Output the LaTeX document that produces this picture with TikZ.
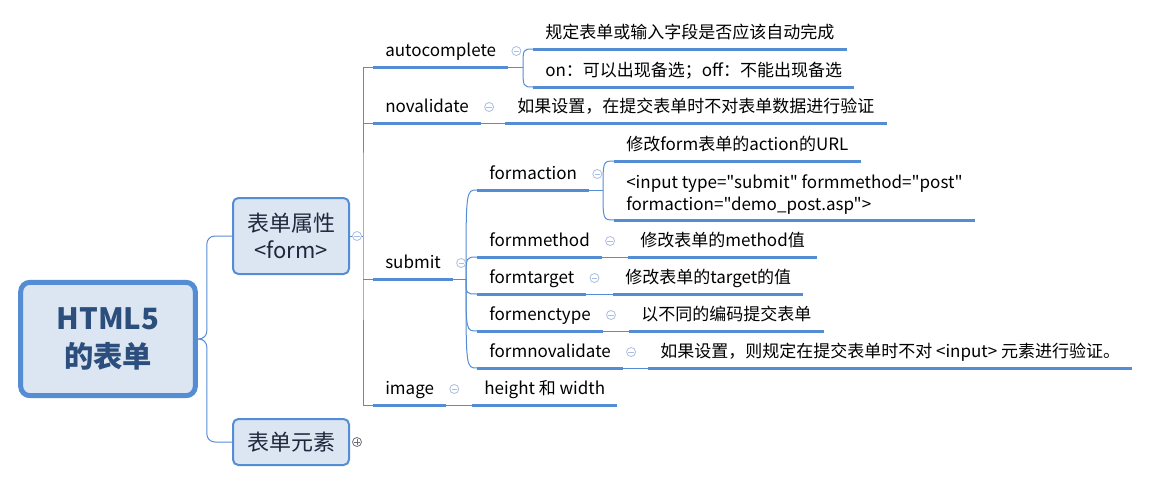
\documentclass[tikz,border=0pt]{standalone}
\usepackage{fontspec}
\setmainfont{Noto Sans CJK SC}[Ligatures=TeXOff]
\usetikzlibrary{positioning,calc}

\definecolor{mmline}{RGB}{84,141,212}
\definecolor{mmfill}{RGB}{220,230,242}
\definecolor{mmroot}{RGB}{44,78,124}
\definecolor{mmmain}{RGB}{30,40,60}
\definecolor{mmfoldl}{RGB}{170,190,225}
\definecolor{mmfoldd}{RGB}{110,110,120}

\tikzset{
  root/.style={draw=mmline, line width=3.75pt, rounded corners=7pt, fill=mmfill,
    minimum width=131pt, minimum height=85pt, align=center, text=mmroot,
    font=\fontsize{22}{29}\selectfont\bfseries},
  mainbox/.style={draw=mmline, line width=1.5pt, rounded corners=4pt, fill=mmfill,
    minimum width=87pt, align=center, text=mmmain,
    font=\fontsize{16.5}{20}\selectfont},
  topicbase/.style={anchor=south west, inner xsep=9pt, inner ysep=4pt,
    font=\fontsize{12.75}{16.5}\selectfont},
  topic/.style={topicbase, text height=9.5pt, text depth=3.5pt},
  conn/.style={draw=mmline, line width=0.75pt},
  uline/.style={draw=mmline, line width=2.25pt},
  fold/.style={circle, draw=mmfoldl, fill=white, line width=0.6pt,
    minimum size=6.75pt, inner sep=0pt,
    path picture={\draw[mmfoldl, line width=0.6pt]
      ([xshift=1.4pt]path picture bounding box.west) -- ([xshift=-1.4pt]path picture bounding box.east);}},
  foldplus/.style={circle, draw=mmfoldd, fill=white, line width=0.6pt,
    minimum size=6.75pt, inner sep=0pt,
    path picture={\draw[mmfoldd, line width=0.6pt]
      ([xshift=1.4pt]path picture bounding box.west) -- ([xshift=-1.4pt]path picture bounding box.east)
      ([yshift=1.4pt]path picture bounding box.south) -- ([yshift=-1.4pt]path picture bounding box.north);}},
}

\begin{document}
\begin{tikzpicture}[x=0.75pt, y=-0.75pt]
\useasboundingbox (0,0) rectangle (1158,483);

% main topics
\node[root] (root) at (108,339) {HTML5\\的表单};
\node[mainbox, minimum height=57pt] (attr) at (291,236) {表单属性\\<form>};
\node[mainbox, minimum height=34.5pt] (elem) at (291,442) {表单元素};

% form attributes
\node[topic] (ac) at (373,67) {autocomplete};
\node[topic] (ac1) at (533,49) {规定表单或输入字段是否应该自动完成};
\node[topic] (ac2) at (533,87) {on：可以出现备选；off：不能出现备选};
\node[topic] (nv) at (373,123) {novalidate};
\node[topic] (nv1) at (505,123) {如果设置，在提交表单时不对表单数据进行验证};
\node[topic] (sub) at (373,279) {submit};
\node[topic] (img) at (373,405) {image};
\node[topic] (img1) at (472,405) {height 和 width};

% submit attributes
\node[topic] (fa) at (477,190) {formaction};
\node[topic] (fa1) at (614,161) {修改form表单的action的URL};
\node[topicbase, align=left] (fa2) at (614,220) {<input type="submit" formmethod="post"\\formaction="demo\_post.asp">};
\node[topic] (fm) at (477,257) {formmethod};
\node[topic] (fm1) at (628,257) {修改表单的method值};
\node[topic] (ft) at (477,294) {formtarget};
\node[topic] (ft1) at (613,294) {修改表单的target的值};
\node[topic] (fe) at (477,331) {formenctype};
\node[topic] (fe1) at (629,331) {以不同的编码提交表单};
\node[topic] (fn) at (477,368) {formnovalidate};
\node[topic] (fn1) at (648,368) {如果设置，则规定在提交表单时不对 <input> 元素进行验证。};

% underlines
\foreach \n in {ac,ac1,ac2,nv,nv1,sub,img,img1,fa,fa1,fa2,fm,fm1,ft,ft1,fe,fe1,fn,fn1}
  \draw[uline] (\n.south west) -- (\n.south east);

% connectors
\draw[conn, rounded corners=6pt] (root.east) -- ++(9,0) |- (attr.west);
\draw[conn, rounded corners=6pt] (root.east) -- ++(9,0) |- (elem.west);
\draw[conn] (attr.east) -- ++(13,0) coordinate (sp);
\draw[conn] (ac.south west) -| (sp) |- (img.south west);
\draw[conn] (sp |- nv.south west) -- (nv.south west);
\draw[conn] (sp |- sub.south west) -- (sub.south west);

\coordinate (acj) at ($(ac1.south west |- ac.south west)+(-10,0)$);
\draw[conn] (ac.south east) -- (acj);
\foreach \c in {ac1,ac2}
  \draw[conn] (acj) .. controls (acj |- \c.south west) .. (\c.south west);
\draw[conn] (nv.south east) -- (nv1.south west);
\draw[conn] (img.south east) -- (img1.south west);

\coordinate (subj) at ($(fa.south west |- sub.south west)+(-11,0)$);
\draw[conn] (sub.south east) -- (subj);
\foreach \c in {fa,fm,ft,fe,fn}
  \draw[conn] (subj) .. controls (subj |- \c.south west) .. (\c.south west);

\coordinate (faj) at ($(fa1.south west |- fa.south west)+(-11,0)$);
\draw[conn] (fa.south east) -- (faj);
\foreach \c in {fa1,fa2}
  \draw[conn] (faj) .. controls (faj |- \c.south west) .. (\c.south west);
\draw[conn] (fm.south east) -- (fm1.south west);
\draw[conn] (ft.south east) -- (ft1.south west);
\draw[conn] (fe.south east) -- (fe1.south west);
\draw[conn] (fn.south east) -- (fn1.south west);

% fold markers
\node[fold] at ([xshift=5.25pt]attr.east) {};
\node[foldplus] at ([xshift=5.25pt]elem.east) {};
\foreach \n in {ac,nv,sub,img,fa,fm,ft,fe,fn}
  \node[fold] at ([shift={(8,-16)}]\n.south east) {};
\end{tikzpicture}
\end{document}
